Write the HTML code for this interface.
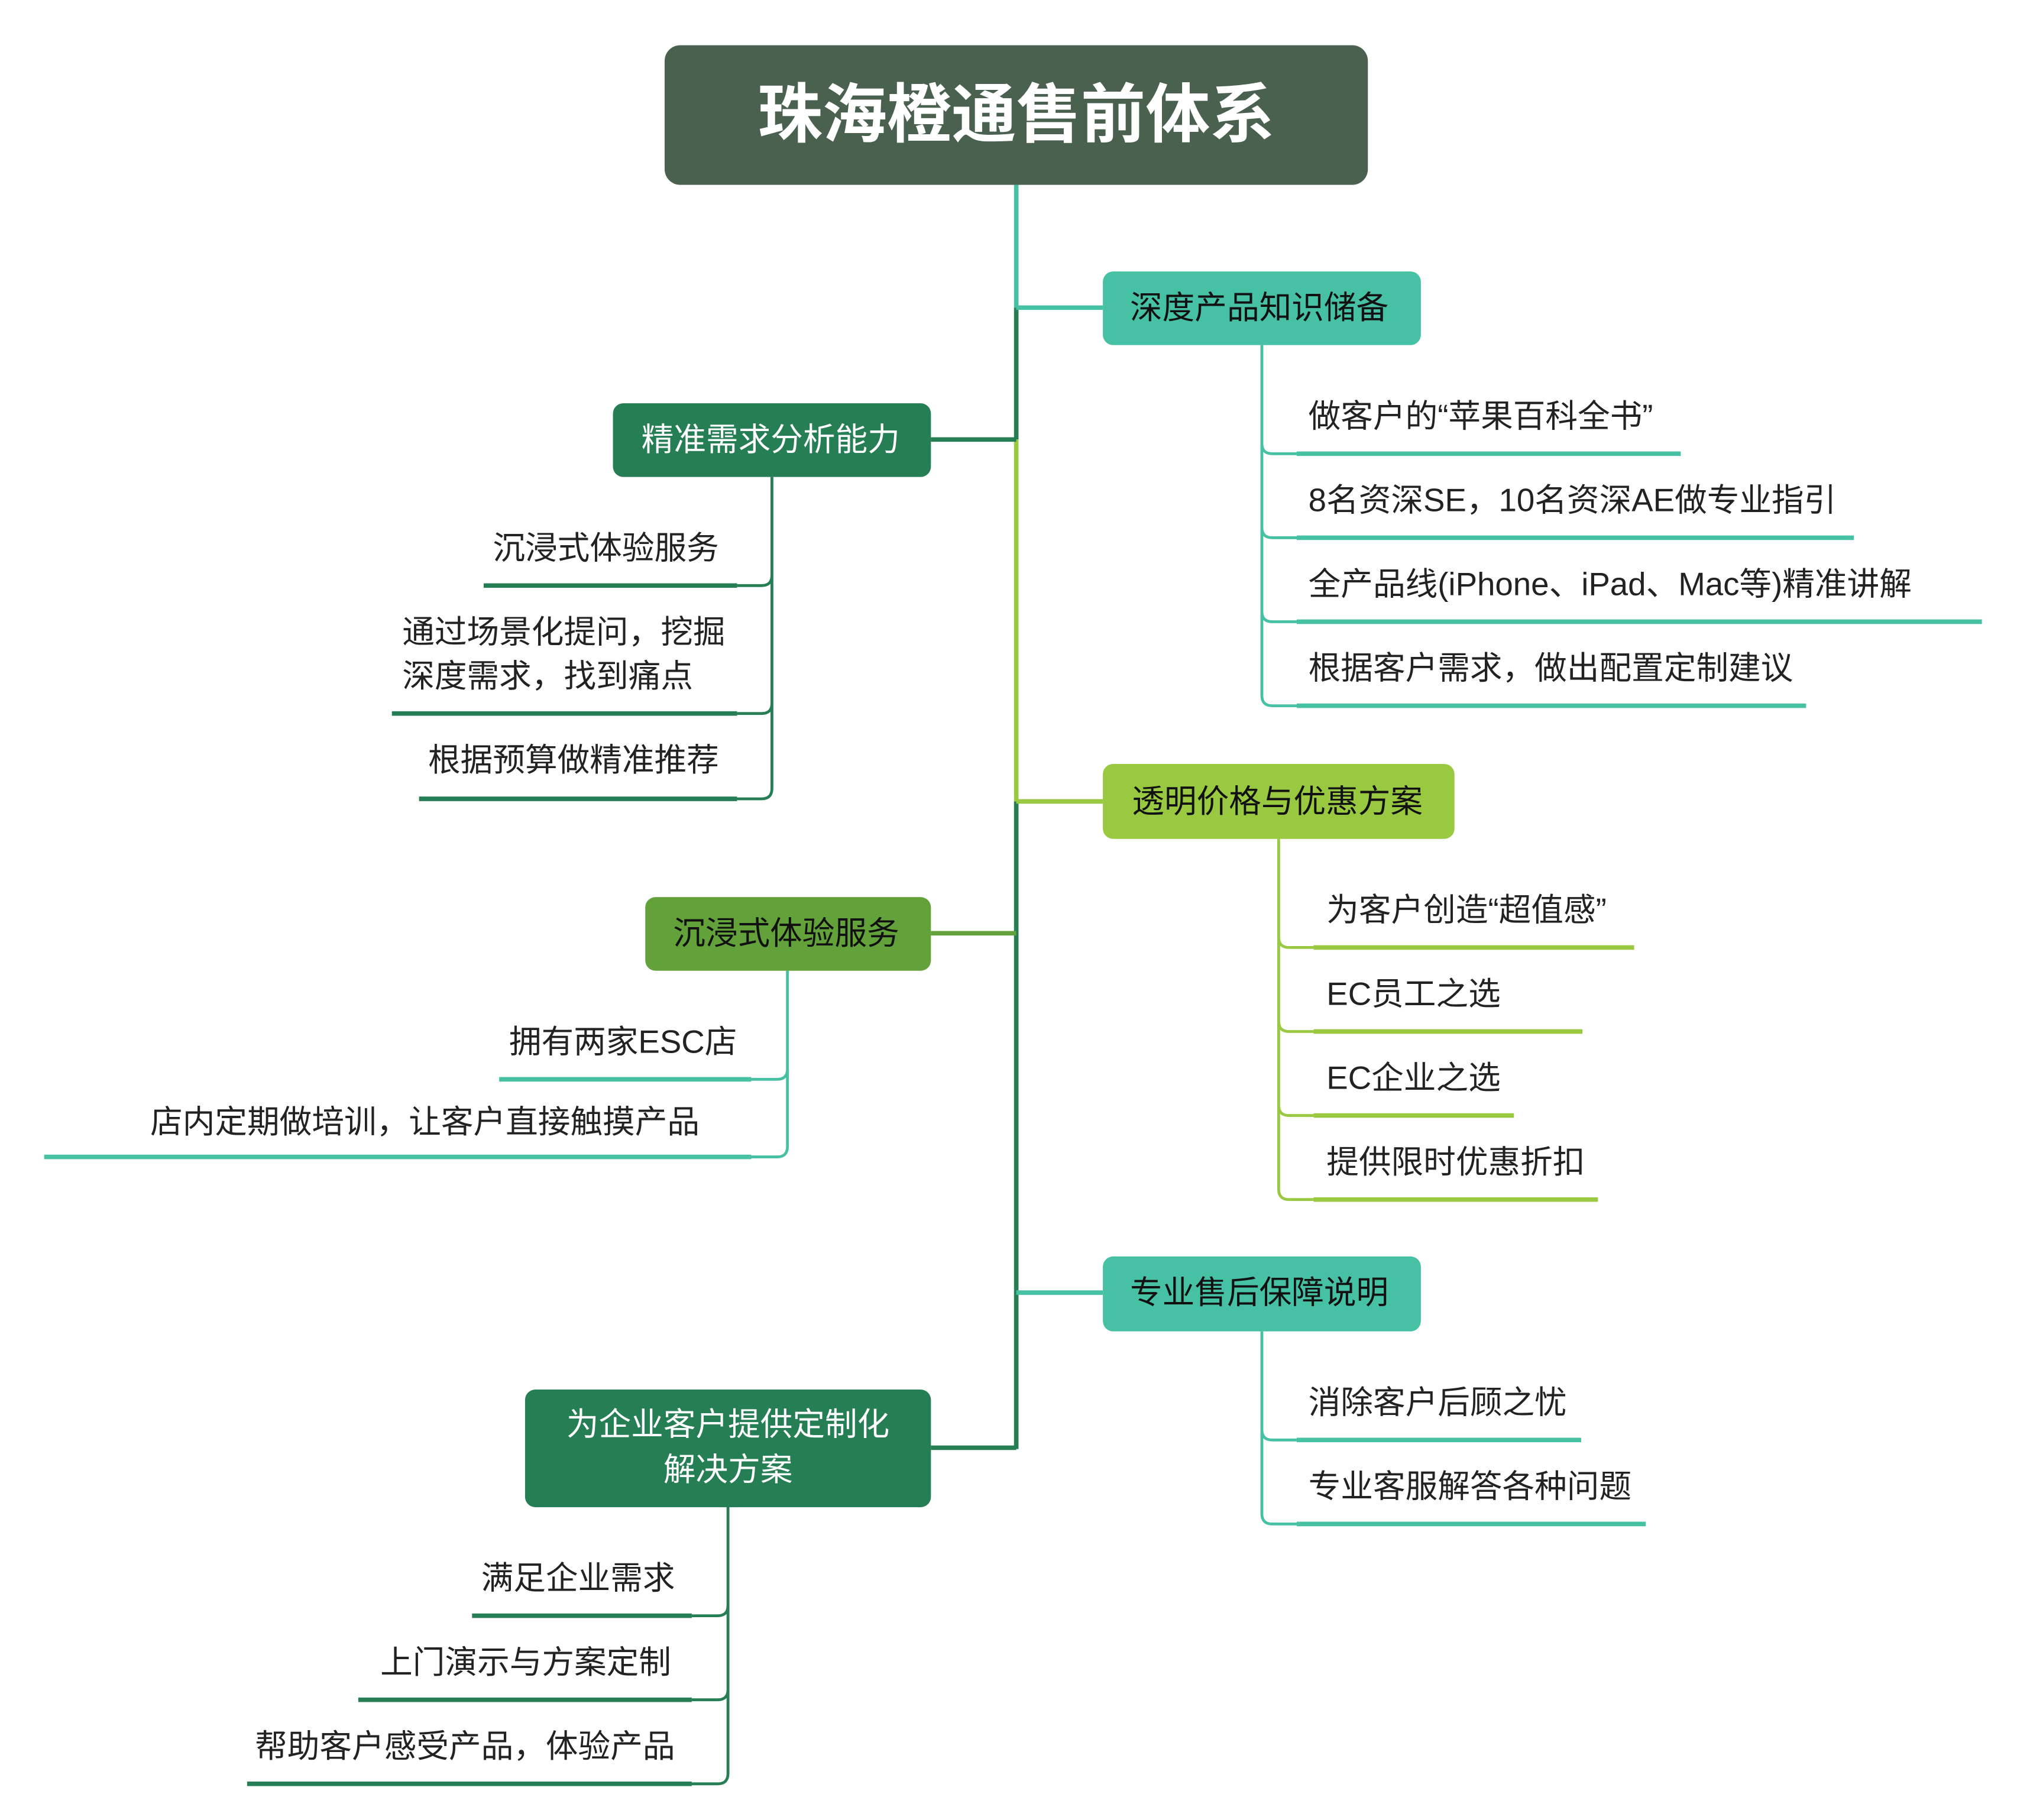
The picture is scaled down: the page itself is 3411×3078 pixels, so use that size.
<!DOCTYPE html>
<html><head><meta charset="utf-8"><style>html,body{margin:0;padding:0;background:#fff}svg{display:block}</style></head>
<body>
<svg width="3411" height="3078" viewBox="0 0 1560 1408" xmlns="http://www.w3.org/2000/svg" font-family="'Liberation Sans','Noto Sans CJK SC',sans-serif">
<rect width="1560" height="1408" fill="#fff"/>
<g fill="none" stroke-width="3.5">
<path d="M786 143V238" stroke="#47c1a3"/>
<path d="M786 238V340" stroke="#267e54"/>
<path d="M786 340V620" stroke="#99c940"/>
<path d="M786 620V1121" stroke="#267e54"/>
<path d="M786 238H853M786 1000H853" stroke="#47c1a3"/>
<path d="M720 340H786M720 1120H786" stroke="#267e54"/>
<path d="M786 620H853" stroke="#99c940"/>
<path d="M720 722H786" stroke="#63a23b"/>
</g>
<g fill="none" stroke-width="2.2" stroke="#47c1a3">
<path d="M976 267V343Q976 351 984 351H1003M976 343V408Q976 416 984 416H1003M976 408V473Q976 481 984 481H1003M976 473V538Q976 546 984 546H1003"/>
<path d="M976 1030V1106Q976 1114 984 1114H1003M976 1106V1171Q976 1179 984 1179H1003"/>
<path d="M609 751V827Q609 835 601 835H581M609 827V887Q609 895 601 895H581"/>
</g>
<g fill="none" stroke-width="2.2" stroke="#99c940">
<path d="M989 649V725Q989 733 997 733H1016M989 725V790Q989 798 997 798H1016M989 790V855Q989 863 997 863H1016M989 855V920Q989 928 997 928H1016"/>
</g>
<g fill="none" stroke-width="2.2" stroke="#267e54">
<path d="M597 369V445Q597 453 589 453H570M597 445V544Q597 552 589 552H570M597 544V610Q597 618 589 618H570"/>
<path d="M563 1166V1242Q563 1250 555 1250H535M563 1242V1307Q563 1315 555 1315H535M563 1307V1372Q563 1380 555 1380H535"/>
</g>
<g stroke-width="3.5" fill="none">
<path d="M1003 351H1300M1003 416H1434M1003 481H1533M1003 546H1397M1003 1114H1223M1003 1179H1273M386 835H581M34 895H581" stroke="#47c1a3"/>
<path d="M1016 733H1264M1016 798H1224M1016 863H1171M1016 928H1236" stroke="#99c940"/>
<path d="M374 453H570M303 552H570M324 618H570M365 1250H535M277 1315H535M191 1380H535" stroke="#267e54"/>
</g>
<rect x="514" y="35" width="544" height="108" rx="12" fill="#4a6150"/>
<text x="786" y="89" fill="#fff" font-size="50" font-weight="bold" text-anchor="middle" dominant-baseline="central">珠海橙通售前体系</text>
<rect x="853" y="210" width="246" height="57" rx="8" fill="#47c1a3"/>
<rect x="474" y="312" width="246" height="57" rx="8" fill="#267e54"/>
<rect x="853" y="591" width="272" height="58" rx="8" fill="#99c940"/>
<rect x="499" y="694" width="221" height="57" rx="8" fill="#63a23b"/>
<rect x="853" y="972" width="246" height="58" rx="8" fill="#47c1a3"/>
<rect x="406" y="1075" width="314" height="91" rx="8" fill="#267e54"/>
<g font-size="25" dominant-baseline="central" text-anchor="middle">
<text x="974" y="238" fill="#111">深度产品知识储备</text>
<text x="596" y="340" fill="#fff">精准需求分析能力</text>
<text x="988" y="620" fill="#111">透明价格与优惠方案</text>
<text x="608" y="722" fill="#111">沉浸式体验服务</text>
<text x="974" y="1000" fill="#111">专业售后保障说明</text>
<text x="563" y="1102" fill="#fff">为企业客户提供定制化</text>
<text x="563" y="1137" fill="#fff">解决方案</text>
</g>
<g font-size="25" dominant-baseline="central" fill="#222">
<text x="1012" y="322">做客户的“苹果百科全书”</text>
<text x="1012" y="387">8名资深SE，10名资深AE做专业指引</text>
<text x="1012" y="452">全产品线(iPhone、iPad、Mac等)精准讲解</text>
<text x="1012" y="517">根据客户需求，做出配置定制建议</text>
<text x="1026" y="704">为客户创造“超值感”</text>
<text x="1026" y="769">EC员工之选</text>
<text x="1026" y="834">EC企业之选</text>
<text x="1026" y="899">提供限时优惠折扣</text>
<text x="1012" y="1085">消除客户后顾之忧</text>
<text x="1012" y="1150">专业客服解答各种问题</text>
<text x="311" y="489">通过场景化提问，挖掘</text>
<text x="311" y="523">深度需求，找到痛点</text>
<g text-anchor="end">
<text x="556" y="424">沉浸式体验服务</text>
<text x="556" y="588">根据预算做精准推荐</text>
<text x="570" y="806">拥有两家ESC店</text>
<text x="541" y="868">店内定期做培训，让客户直接触摸产品</text>
<text x="522" y="1221">满足企业需求</text>
<text x="519" y="1286">上门演示与方案定制</text>
<text x="522" y="1351">帮助客户感受产品，体验产品</text>
</g>
</g>
</svg>
</body></html>
